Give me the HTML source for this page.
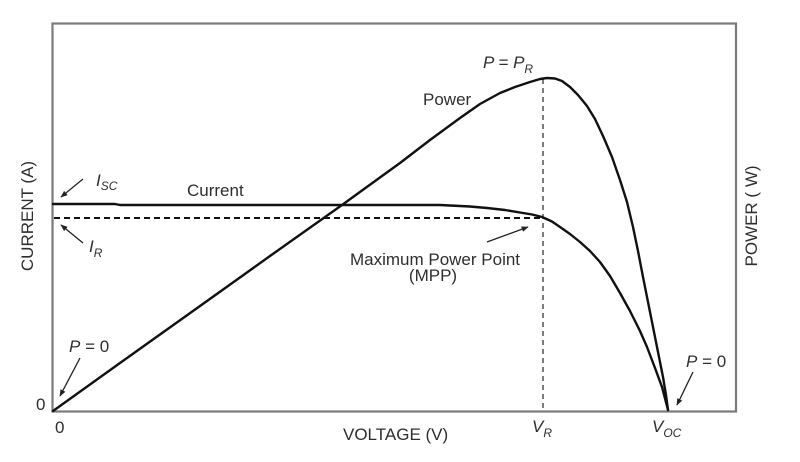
<!DOCTYPE html>
<html>
<head>
<meta charset="utf-8">
<style>
  html,body{margin:0;padding:0;background:#fff;}
  svg{display:block;}
  text{font-family:"Liberation Sans",Arial,sans-serif;fill:#2e2e2e;font-size:17px;}
  .it{font-style:italic;}
</style>
</head>
<body>
<svg width="800" height="462" viewBox="0 0 800 462" xmlns="http://www.w3.org/2000/svg">
  <defs>
    <marker id="ah" viewBox="0 0 10 10" refX="9" refY="5" markerWidth="7" markerHeight="7" orient="auto" markerUnits="userSpaceOnUse">
      <path d="M0,1 L10,5 L0,9 z" fill="#222"/>
    </marker>
  </defs>
  <rect x="0" y="0" width="800" height="462" fill="#fff"/>
  <!-- frame -->
  <rect x="52.5" y="23.5" width="683.5" height="388" fill="none" stroke="#7a7a7a" stroke-width="2.2"/>

  <!-- dashed lines -->
  <line x1="543" y1="79" x2="543" y2="411" stroke="#444" stroke-width="1.4" stroke-dasharray="5,4"/>
  <line x1="54" y1="218" x2="541" y2="218" stroke="#111" stroke-width="2" stroke-dasharray="6,4"/>

  <!-- current curve -->
  <polyline fill="none" stroke="#111" stroke-width="2.4" stroke-linejoin="round" stroke-linecap="round"
    points="53,204 115,204 120,205 440,205 470,206.5 487,208 505,210 520,212.5 532,214.5 542,217 552,221.5 560,227 570,234 580,242 590,251 600,262 610,276 620,293 630,311 640,331 647,347 655,368 662,387 668,410"/>

  <!-- power curve -->
  <polyline fill="none" stroke="#111" stroke-width="2.4" stroke-linejoin="round" stroke-linecap="round"
    points="53,411 120,363 200,306 270,256 342,205 400,163 430,140 460,118 480,104 500,93 515,87 530,82 540,79 547,78 555,78.5 562,81 570,87 578,95 587,106 595,119 603,136 612,157 620,180 627,202 633,227 638,251 643,277 648,302 653,327 658,352 663,377 666,395 668,410"/>

  <!-- arrows -->
  <line x1="83" y1="179" x2="61" y2="197" stroke="#222" stroke-width="1.3" marker-end="url(#ah)"/>
  <line x1="83" y1="243" x2="61" y2="225" stroke="#222" stroke-width="1.3" marker-end="url(#ah)"/>
  <line x1="80" y1="358" x2="60" y2="396" stroke="#222" stroke-width="1.3" marker-end="url(#ah)"/>
  <line x1="693" y1="372" x2="677" y2="405" stroke="#222" stroke-width="1.3" marker-end="url(#ah)"/>
  <line x1="487" y1="242" x2="528" y2="227" stroke="#222" stroke-width="1.3" marker-end="url(#ah)"/>

  <!-- labels -->
  <text x="96" y="186" class="it">I<tspan font-size="12" dy="4">SC</tspan></text>
  <text x="187" y="196">Current</text>
  <text x="89" y="252" class="it">I<tspan font-size="12" dy="5">R</tspan></text>
  <text x="423" y="105">Power</text>
  <text x="483" y="68" class="it">P = P<tspan font-size="12" dy="5">R</tspan></text>
  <text x="435" y="265" text-anchor="middle">Maximum Power Point</text>
  <text x="433" y="281" text-anchor="middle">(MPP)</text>
  <text x="69" y="352" class="it">P<tspan font-style="normal"> = 0</tspan></text>
  <text x="686" y="367" class="it">P<tspan font-style="normal"> = 0</tspan></text>
  <text x="36" y="410">0</text>
  <text x="55" y="433">0</text>
  <text x="343" y="440">VOLTAGE (V)</text>
  <text x="532" y="432" class="it">V<tspan font-size="12" dy="5">R</tspan></text>
  <text x="652" y="432" class="it">V<tspan font-size="12" dy="5">OC</tspan></text>
  <text transform="translate(33,216) rotate(-90)" text-anchor="middle">CURRENT (A)</text>
  <text transform="translate(757,216) rotate(-90)" text-anchor="middle">POWER ( W)</text>
</svg>
</body>
</html>
